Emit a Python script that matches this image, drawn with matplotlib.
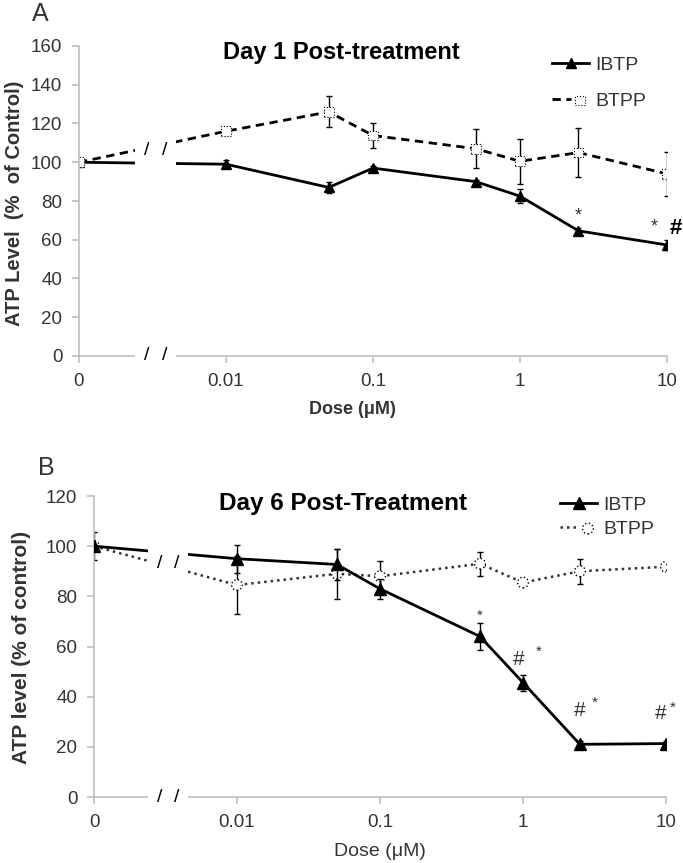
import matplotlib
matplotlib.use("Agg")
import matplotlib.pyplot as plt
from matplotlib.legend_handler import HandlerTuple
import numpy as np

plt.rcParams['font.family'] = ['Liberation Sans', 'DejaVu Sans']

# doses (uM); 0 is drawn one decade left of 0.01 on the log axis
dose = [0, 0.01, 0.05, 0.1, 0.5, 1, 2.5, 10]
tick_vals = [0, 0.01, 0.1, 1, 10]
tick_labels = ["0", "0.01", "0.1", "1", "10"]
ZERO_POS = 0.001

# Day 1
ibtp_d1 = [100, 99, 87, 97, 90, 82.5, 64.6, 57.3]
ibtp_d1_err = [0, 2, 3, 1, 1, 3.5, 1.5, 2.5]
btpp_d1 = [100, 116, 126, 113.8, 107, 100.5, 105, 94]
btpp_d1_err = [0, 2, 8, 6.3, 10, 11.5, 12.5, 11.5]

# Day 6
ibtp_d6 = [100, 95, 92.7, 83, 64, 45.6, 21, 21.3]
ibtp_d6_err = [0, 5.5, 6, 4, 5.5, 3.2, 1.2, 1.2]
btpp_d6 = [100, 84.5, 89, 88, 93, 85.5, 90, 91.8]
btpp_d6_err = [5.7, 11.5, 10, 6, 4.7, 1, 5, 1.2]

GRAY = '#bfbfbf'
TXT = '#333333'


def xpos(vals):
    return [ZERO_POS if v == 0 else v for v in vals]


def setup(ax, ymax, upper_slash_y):
    ax.set_xscale('log')
    ax.set_xlim(ZERO_POS, 10)
    ax.set_ylim(0, ymax)
    ax.set_xticks(xpos(tick_vals))
    ax.set_xticklabels(tick_labels)
    ax.minorticks_off()
    ax.set_yticks(np.arange(0, ymax + 1, 20))
    for s in ['top', 'right']:
        ax.spines[s].set_visible(False)
    for s in ['left', 'bottom']:
        ax.spines[s].set_color(GRAY)
        ax.spines[s].set_linewidth(1.2)
    ax.tick_params(direction='out', length=5, width=1.2, color=GRAY,
                   labelsize=13.5, labelcolor=TXT, pad=7)
    # axis break
    ax.axvspan(10 ** -2.62, 10 ** -2.34, ymin=-0.04, ymax=1.0, color='white',
               zorder=3, clip_on=False, lw=0)
    for lx in [10 ** -2.54, 10 ** -2.42]:
        ax.text(lx, 0, '/', transform=ax.get_xaxis_transform(), ha='center',
                va='center', fontsize=14, color='black', zorder=5, clip_on=False)
        ax.text(lx, upper_slash_y, '/', ha='center', va='center', fontsize=14,
                color='black', zorder=5)


fig = plt.figure(figsize=(6.83, 8.63), dpi=100)
W, H = 683, 863

# ---------------- panel A ----------------
axA = fig.add_axes([79 / W, 1 - 356 / H, (667 - 79) / W, (356 - 46) / H])
x = xpos(dose)
hA1 = axA.errorbar(x, ibtp_d1, yerr=ibtp_d1_err, color='black', lw=2,
                   marker='^', ms=7, mfc='black', mec='black',
                   ecolor='black', elinewidth=1, capsize=2.5, zorder=2)
axA.errorbar(x, btpp_d1, yerr=btpp_d1_err, fmt='none', ecolor='black',
             elinewidth=1, capsize=2.5, zorder=2)
lA2, = axA.plot(x, btpp_d1, color='black', lw=2, ls=(0, (3, 2)), zorder=2)
sA2 = axA.scatter(x, btpp_d1, marker='s', s=50, facecolors='white',
                  edgecolors='black', linewidths=0.8, linestyles=':', zorder=2.2)
setup(axA, 160, 106)

axA.annotate('*', (x[6], ibtp_d1[6]), xytext=(0, 11), textcoords='offset points',
             ha='center', va='center', fontsize=13, color=TXT)
axA.annotate('*', (x[7], ibtp_d1[7]), xytext=(-9, 13), textcoords='offset points',
             ha='center', va='center', fontsize=13, color=TXT)
axA.annotate('#', (x[7], ibtp_d1[7]), xytext=(6, 12), textcoords='offset points',
             ha='center', va='center', fontsize=16, fontweight='bold',
             color='black', annotation_clip=False)

axA.legend([hA1[0], (lA2, sA2)], ['IBTP', 'BTPP'],
           handler_map={tuple: HandlerTuple(ndivide=None)},
           loc='upper left', bbox_to_anchor=(0.805, 0.968), frameon=False,
           fontsize=14, handlelength=1.9, handletextpad=0.3, labelspacing=0.95,
           borderpad=0, borderaxespad=0, labelcolor=TXT)

fig.text(40 / W, 1 - 14 / H, 'A', fontsize=18, ha='center', va='center', color=TXT)
fig.text(341 / W, 1 - 53 / H, 'Day 1 Post-treatment', fontsize=17,
         fontweight='bold', ha='center', va='center')
fig.text(15 / W, 1 - 203 / H, 'ATP Level  (%  of Control)', fontsize=14.5,
         fontweight='bold', rotation=90, ha='center', va='center', color=TXT)
fig.text(352 / W, 1 - 409 / H, 'Dose (\u03bcM)', fontsize=13,
         fontweight='bold', ha='center', va='center', color=TXT)

# ---------------- panel B ----------------
axB = fig.add_axes([94 / W, 1 - 797 / H, (666 - 94) / W, (797 - 496) / H])
axB.errorbar(x, btpp_d6, yerr=btpp_d6_err, fmt='none', ecolor='black',
             elinewidth=1, capsize=2.5, zorder=2)
lB2, = axB.plot(x, btpp_d6, color='#333333', lw=1.8, ls=(0, (1, 1.6)), zorder=2)
sB2 = axB.scatter(x, btpp_d6, marker='o', s=60, facecolors='white',
                  edgecolors='black', linewidths=1.0, linestyles=':', zorder=2.2)
hB1 = axB.errorbar(x, ibtp_d6, yerr=ibtp_d6_err, color='black', lw=2,
                   marker='^', ms=8, mfc='black', mec='black',
                   ecolor='black', elinewidth=1, capsize=2.5, zorder=2.5)
setup(axB, 120, 93)

axB.annotate('*', (x[4], ibtp_d6[4]), xytext=(0, 15), textcoords='offset points',
             ha='center', va='center', fontsize=11, color=TXT)
axB.annotate('#', (x[5], ibtp_d6[5]), xytext=(-3, 17), textcoords='offset points',
             ha='center', va='center', fontsize=15, color=TXT)
axB.annotate('*', (x[5], ibtp_d6[5]), xytext=(11, 22), textcoords='offset points',
             ha='center', va='center', fontsize=11, color=TXT)
axB.annotate('#', (x[6], ibtp_d6[6]), xytext=(0, 24), textcoords='offset points',
             ha='center', va='center', fontsize=15, color=TXT)
axB.annotate('*', (x[6], ibtp_d6[6]), xytext=(11, 30), textcoords='offset points',
             ha='center', va='center', fontsize=11, color=TXT)
axB.annotate('#', (x[7], ibtp_d6[7]), xytext=(-4, 22), textcoords='offset points',
             ha='center', va='center', fontsize=15, color=TXT)
axB.annotate('*', (x[7], ibtp_d6[7]), xytext=(5, 26), textcoords='offset points',
             ha='center', va='center', fontsize=11, color=TXT,
             annotation_clip=False)

axB.legend([hB1[0], (lB2, sB2)], ['IBTP', 'BTPP'],
           handler_map={tuple: HandlerTuple(ndivide=None)},
           loc='upper left', bbox_to_anchor=(0.815, 0.998), frameon=False,
           fontsize=14, handlelength=1.9, handletextpad=0.3, labelspacing=0.3,
           borderpad=0, borderaxespad=0, labelcolor=TXT)

fig.text(46 / W, 1 - 468 / H, 'B', fontsize=18, ha='center', va='center', color=TXT)
fig.text(343 / W, 1 - 503 / H, 'Day 6 Post-Treatment', fontsize=17.5,
         fontweight='bold', ha='center', va='center')
fig.text(22 / W, 1 - 647 / H, 'ATP level (% of control)', fontsize=15,
         fontweight='bold', rotation=90, ha='center', va='center', color=TXT)
fig.text(380 / W, 1 - 851 / H, 'Dose (\u03bcM)', fontsize=14,
         ha='center', va='center', color=TXT)

fig.savefig('out.png', dpi=100)
